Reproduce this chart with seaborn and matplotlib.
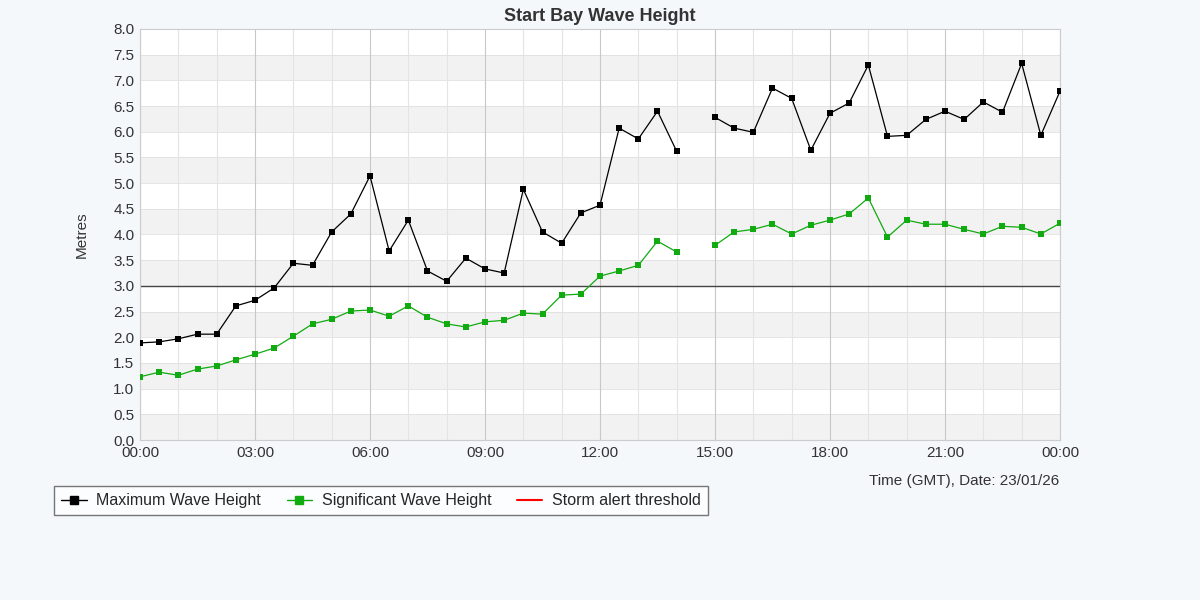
import matplotlib
matplotlib.use("Agg")
import matplotlib.pyplot as plt
from matplotlib.lines import Line2D
import numpy as np
import pandas as pd
import seaborn as sns

# half-hourly readings 00:00 .. 24:00, None = missing
max_wave = [1.89, 1.91, 1.97, 2.06, 2.06, 2.61, 2.72, 2.96, 3.44, 3.40,
            4.05, 4.40, 5.14, 3.68, 4.28, 3.29, 3.09, 3.54, 3.33, 3.25,
            4.88, 4.05, 3.83, 4.42, 4.57, 6.07, 5.86, 6.40, 5.62, None,
            6.28, 6.07, 5.99, 6.85, 6.65, 5.64, 6.36, 6.56, 7.30, 5.91,
            5.93, 6.24, 6.40, 6.24, 6.58, 6.38, 7.33, 5.93, 6.79]
sig_wave = [1.23, 1.32, 1.26, 1.38, 1.44, 1.56, 1.67, 1.79, 2.02, 2.26,
            2.35, 2.51, 2.53, 2.41, 2.61, 2.39, 2.26, 2.20, 2.30, 2.33,
            2.47, 2.45, 2.82, 2.84, 3.19, 3.29, 3.40, 3.87, 3.66, None,
            3.79, 4.05, 4.10, 4.20, 4.01, 4.18, 4.28, 4.40, 4.71, 3.95,
            4.28, 4.20, 4.20, 4.10, 4.01, 4.16, 4.14, 4.01, 4.22]
storm_threshold = 3.0
hours = np.arange(len(max_wave)) * 0.5
tick_labels = ["00:00", "03:00", "06:00", "09:00", "12:00", "15:00", "18:00", "21:00", "00:00"]

df = pd.DataFrame({"hour": hours, "max": max_wave, "sig": sig_wave}).astype(float)
# split into segments at missing readings so the line breaks
df["seg"] = df["max"].isna().cumsum()

sns.set_style("white")
plt.rcParams["font.family"] = ["Liberation Sans", "DejaVu Sans"]

fig = plt.figure(figsize=(12, 6), dpi=100, facecolor="#f5f8fb")
ax = fig.add_axes([140 / 1200, 1 - 440 / 600, 920 / 1200, 411 / 600])
ax.set_facecolor("white")

for y0 in np.arange(0, 8, 0.5):
    if int(round(y0 * 2)) % 2 == 0:
        ax.axhspan(y0, y0 + 0.5, color="#f2f2f2", zorder=0, lw=0)
for y0 in np.arange(0, 8.01, 0.5):
    ax.axhline(y0, color="#e0e0e0", lw=0.6, zorder=0.5)
for h in range(25):
    ax.axvline(h, color="#c8c8c8" if h % 3 == 0 else "#e4e4e4", lw=0.8, zorder=0.5)

ax.axhline(storm_threshold, color="#444444", lw=1, zorder=2)
for col, colour in [("max", "black"), ("sig", "#11aa11")]:
    sub = df.dropna(subset=[col])
    sns.lineplot(data=sub, x="hour", y=col, units="seg", estimator=None, ax=ax,
                 color=colour, lw=0.9, marker="s", markersize=4,
                 markeredgewidth=0, zorder=3)

ax.set_xlim(0, 24)
ax.set_ylim(0, 8)
ax.set_xticks(range(0, 25, 3))
ax.set_xticklabels(tick_labels)
ax.set_yticks(np.arange(0, 8.01, 0.5))
ax.set_yticklabels([f"{v:.1f}" for v in np.arange(0, 8.01, 0.5)])
ax.tick_params(labelsize=11, colors="#333333", length=0, pad=4)
for s in ax.spines.values():
    s.set_color("#cccccc")
ax.set_xlabel("")
ax.set_ylabel("Metres", fontsize=11, color="#333333", labelpad=18)
ax.set_title("Start Bay Wave Height", fontsize=13, fontweight="bold", color="#333333", pad=6)
fig.text(1059 / 1200, 1 - 481 / 600, "Time (GMT), Date: 23/01/26", ha="right", va="center",
         fontsize=11, color="#333333")

handles = [
    Line2D([], [], color="black", marker="s", markersize=6, lw=1),
    Line2D([], [], color="#11aa11", marker="s", markersize=6, lw=1),
    Line2D([], [], color="red", lw=1.5),
]
leg = fig.legend(handles, ["Maximum Wave Height", "Significant Wave Height", "Storm alert threshold"],
                 loc="upper left", bbox_to_anchor=(46 / 1200, 1 - 478 / 600), ncol=3,
                 fontsize=11.5, frameon=True, fancybox=False, handlelength=1.6,
                 columnspacing=1.6, borderpad=0.45, handletextpad=0.6)
leg.get_frame().set_edgecolor("#555555")
leg.get_frame().set_facecolor("white")

fig.savefig("out.png", dpi=100, facecolor=fig.get_facecolor())
